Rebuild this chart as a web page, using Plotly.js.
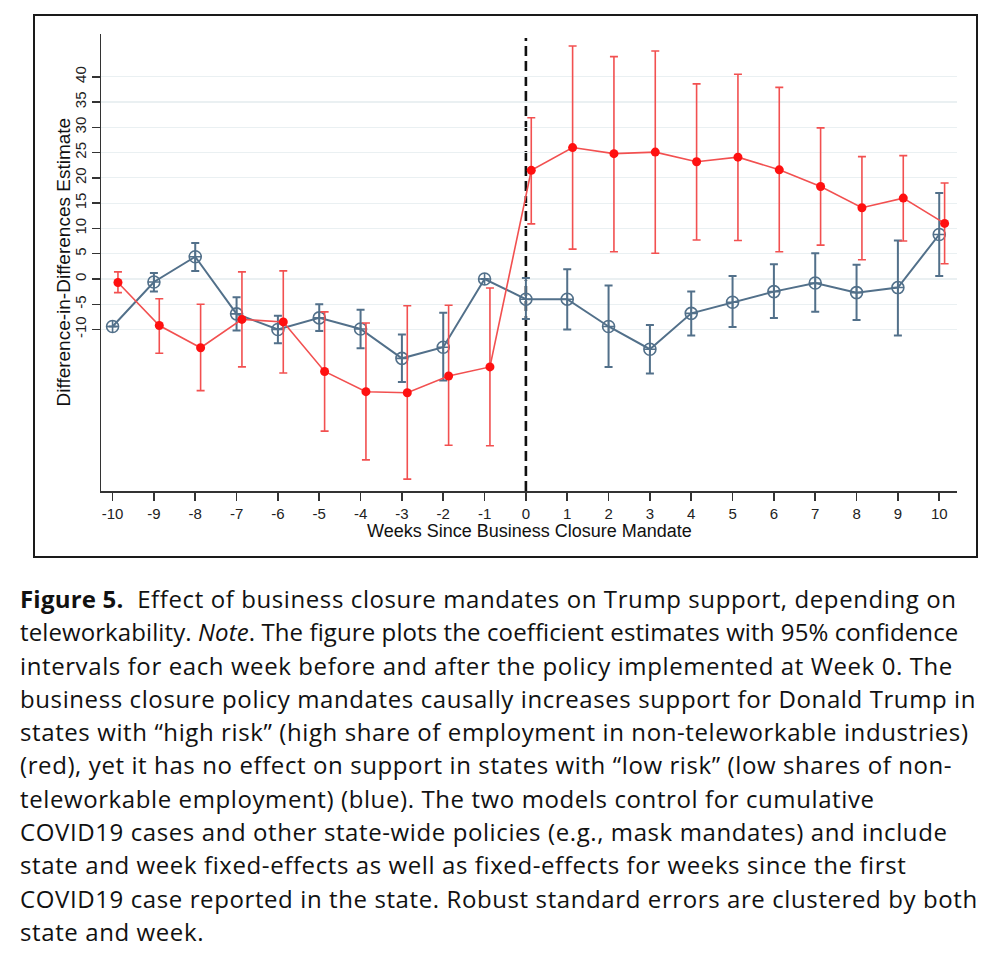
<!DOCTYPE html>
<html>
<head>
<meta charset="utf-8">
<script src="https://cdn.plot.ly/plotly-3.0.1.min.js"></script>
<style>
  html, body { margin: 0; padding: 0; background: #ffffff; }
  #wrap { position: relative; width: 1000px; height: 962px; overflow: hidden; background: #fff; }
  #frame { position: absolute; left: 33px; top: 14px; width: 941px; height: 540px; border: 2px solid #1a1a1a; box-sizing: content-box; }
  #chart { position: absolute; left: 0; top: 0; width: 1000px; height: 570px; }
  #caption { position: absolute; left: 20px; top: 582px; font-family: "Open Sans", "Lato", sans-serif; font-size: 24px; letter-spacing: 0.6px; line-height: 33.3px; color: #111; white-space: nowrap; }
  #caption b { font-weight: 700; letter-spacing: 0.2px; }
  #caption .tight { letter-spacing: 0.1px; }
</style>
</head>
<body>
<div id="wrap">
  <div id="frame"></div>
  <div id="chart"></div>
  <div id="caption">
    <div><b>Figure 5.</b>&nbsp; Effect of business closure mandates on Trump support, depending on</div>
    <div class="tight">teleworkability. <i>Note</i>. The figure plots the coefficient estimates with 95% confidence</div>
    <div>intervals for each week before and after the policy implemented at Week 0. The</div>
    <div>business closure policy mandates causally increases support for Donald Trump in</div>
    <div>states with “high risk” (high share of employment in non-teleworkable industries)</div>
    <div>(red), yet it has no effect on support in states with “low risk” (low shares of non-</div>
    <div>teleworkable employment) (blue). The two models control for cumulative</div>
    <div>COVID19 cases and other state-wide policies (e.g., mask mandates) and include</div>
    <div>state and week fixed-effects as well as fixed-effects for weeks since the first</div>
    <div>COVID19 case reported in the state. Robust standard errors are clustered by both</div>
    <div>state and week.</div>
  </div>
</div>
<script>
// ---- data ----
const weeks = [-10,-9,-8,-7,-6,-5,-4,-3,-2,-1,0,1,2,3,4,5,6,7,8,9,10];

// low risk (blue)
const lowEst = [-9.4,-0.6,4.4,-6.9,-10.0,-7.7,-9.9,-15.7,-13.5,0.0,-4.0,-4.0,-9.4,-13.9,-6.8,-4.6,-2.5,-0.8,-2.7,-1.7,8.8];
const lowLo  = [-9.4,-2.5,1.6,-10.2,-12.7,-10.3,-13.7,-20.4,-20.1,0.0,-7.9,-10.0,-17.4,-18.7,-11.2,-9.5,-7.7,-6.5,-8.1,-11.2,0.6];
const lowHi  = [-9.4,1.2,7.1,-3.6,-7.3,-5.0,-6.1,-11.0,-6.7,0.0,0.2,1.9,-1.3,-9.1,-2.5,0.6,2.9,5.1,2.8,7.6,17.0];

// high risk (red)
const highEst = [-0.7,-9.2,-13.6,-8.0,-8.5,-18.3,-22.3,-22.5,-19.2,-17.4,21.5,26.0,24.8,25.1,23.2,24.1,21.6,18.3,14.1,16.0,11.0];
const highLo  = [-2.7,-14.7,-22.1,-17.4,-18.6,-30.1,-35.8,-39.6,-32.9,-33.0,10.9,5.9,5.4,5.1,7.7,7.6,5.4,6.7,3.8,7.5,3.0];
const highHi  = [1.4,-3.9,-5.0,1.4,1.6,-6.5,-8.7,-5.3,-5.2,-1.8,31.9,46.1,44.0,45.1,38.6,40.5,37.9,29.9,24.2,24.4,19.0];

const yTickVals = [-10,-5,0,5,10,15,20,25,30,35,40];
const xTickVals = weeks;
const policyWeek = 0;
const nullEffect = 0;
const xTitle = 'Weeks Since Business Closure Mandate';
const yTitle = 'Difference-in-Differences Estimate';

// ---- styling ----
const DODGE = 0.13;
const BLUE = '#52708a';
const RED_LINE = '#f25050';
const RED_MARK = '#ff1010';
const Y_RANGE = [-41.95, 48.47];
const X_RANGE = [-10.28, 10.43];
const VLINE_TOP = 47.7;

const lowTrace = {
  x: weeks,
  y: lowEst,
  type: 'scatter',
  mode: 'lines+markers',
  line: {color: BLUE, width: 2},
  marker: {symbol: 'circle-cross-open', size: 12, color: BLUE, line: {width: 1.6, color: BLUE}},
  error_y: {
    type: 'data', symmetric: false,
    array: lowHi.map((h, i) => h - lowEst[i]),
    arrayminus: lowEst.map((v, i) => v - lowLo[i]),
    color: BLUE, thickness: 2, width: 4
  },
  showlegend: false,
  hoverinfo: 'x+y'
};

const highTrace = {
  x: weeks.map(w => w + DODGE),
  y: highEst,
  type: 'scatter',
  mode: 'lines+markers',
  line: {color: RED_LINE, width: 1.6},
  marker: {symbol: 'circle', size: 9, color: RED_MARK},
  error_y: {
    type: 'data', symmetric: false,
    array: highHi.map((h, i) => h - highEst[i]),
    arrayminus: highEst.map((v, i) => v - highLo[i]),
    color: RED_LINE, thickness: 1.6, width: 4
  },
  showlegend: false,
  hoverinfo: 'x+y'
};

const layout = {
  width: 1000,
  height: 570,
  margin: {l: 101, r: 43, t: 34, b: 79},
  paper_bgcolor: 'rgba(0,0,0,0)',
  plot_bgcolor: 'rgba(0,0,0,0)',
  font: {family: '"Liberation Sans", Arial, sans-serif', color: '#222', size: 15},
  showlegend: false,
  xaxis: {
    range: X_RANGE,
    tickvals: xTickVals,
    ticktext: xTickVals.map(String),
    showgrid: false,
    zeroline: false,
    showline: true,
    linecolor: '#333',
    linewidth: 1.5,
    ticks: 'outside',
    ticklen: 8,
    tickwidth: 1.5,
    tickcolor: '#333',
    tickfont: {size: 15, color: '#222'}
  },
  yaxis: {
    range: Y_RANGE,
    tickvals: yTickVals,
    ticktext: yTickVals.map(String),
    tickangle: -90,
    showgrid: true,
    gridcolor: '#eaf0f2',
    gridwidth: 1.2,
    zeroline: false,
    showline: true,
    linecolor: '#333',
    linewidth: 1.5,
    ticks: 'outside',
    ticklen: 8,
    tickwidth: 1.5,
    tickcolor: '#333',
    tickfont: {size: 15, color: '#222'}
  },
  annotations: [
    {text: xTitle, xref: 'paper', yref: 'paper', x: 0.5, y: 0, xanchor: 'center', yanchor: 'middle',
     yshift: -40, showarrow: false, font: {size: 18, color: '#111'}},
    {text: yTitle, xref: 'paper', yref: 'paper', x: 0, y: 0.5, xanchor: 'center', yanchor: 'middle',
     xshift: -38, textangle: -90, showarrow: false, font: {size: 19, color: '#111'}}
  ],
  shapes: [
    {type: 'line', xref: 'paper', yref: 'y', x0: 0, x1: 1, y0: nullEffect, y1: nullEffect,
     line: {color: '#3a3a3a', width: 2, dash: '9px,5px'}, layer: 'below'},
    {type: 'line', xref: 'x', yref: 'y', x0: policyWeek, x1: policyWeek, y0: Y_RANGE[0], y1: VLINE_TOP,
     line: {color: '#111', width: 2.6, dash: '10px,5px'}, layer: 'below'}
  ]
};

Plotly.newPlot('chart', [lowTrace, highTrace], layout, {displayModeBar: false, staticPlot: true});
</script>
</body>
</html>
